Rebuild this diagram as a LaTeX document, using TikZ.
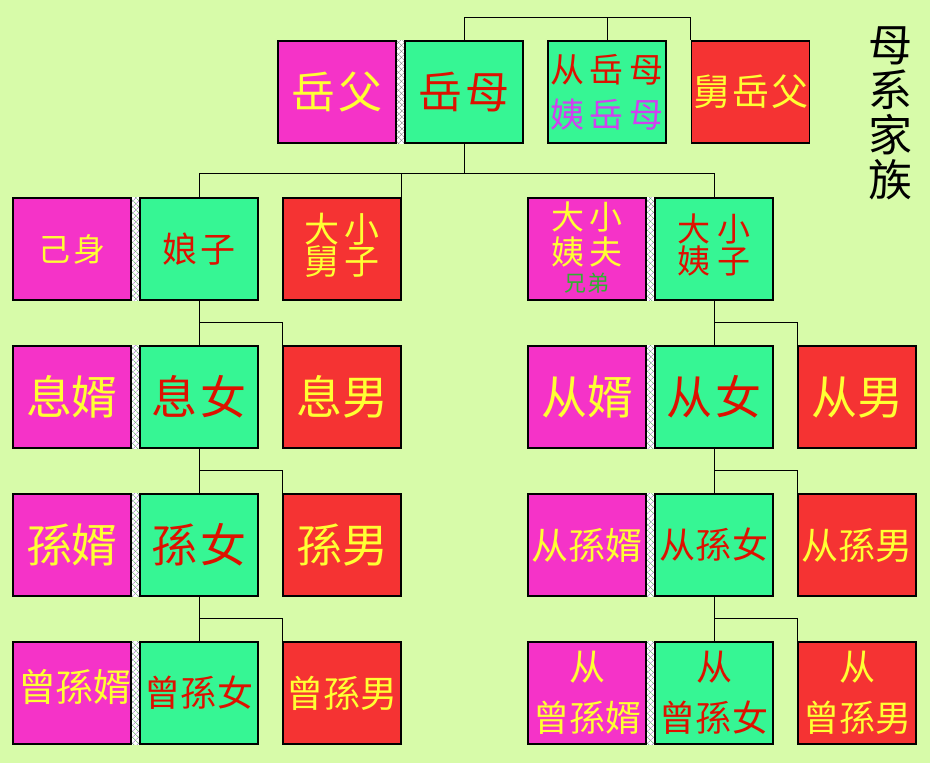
\documentclass[tikz,border=0pt]{standalone}
\usepackage{fontspec}
\newfontfamily\cjk{Noto Sans CJK SC}
\usetikzlibrary{patterns.meta}
\definecolor{bgc}{HTML}{D7FBA9}
\definecolor{cmag}{HTML}{F533C8}
\definecolor{cgrn}{HTML}{36F694}
\definecolor{cred}{HTML}{F53333}
\definecolor{tyel}{HTML}{FFFF33}
\definecolor{tred}{HTML}{DD1100}
\definecolor{tmag}{HTML}{D040F0}
\definecolor{tgrn}{HTML}{30B030}
\definecolor{hatchA}{HTML}{A060C8}
\definecolor{hatchB}{HTML}{50B050}
\newcommand\gapx[1][3pt]{\hspace{#1}}
\pgfdeclarelayer{back}
\pgfsetlayers{back,main}
\tikzset{
  fs/.style={font=\cjk\fontsize{#1}{#1}\selectfont},
  box/.style={draw=black, line width=1.2pt, rectangle, minimum width=118pt, minimum height=102pt, inner sep=0pt},
  magbox/.style={box, fill=cmag, text=tyel},
  grnbox/.style={box, fill=cgrn, text=tred},
  redbox/.style={box, fill=cred, text=tyel},
  conn/.style={draw=black, line width=1pt},
  hatchbg/.style={fill=white},
  hatchone/.style={pattern={Lines[angle=45,distance=4pt,line width=0.5pt]}, pattern color=#1},
  hatchtwo/.style={pattern={Lines[angle=-45,distance=4pt,line width=0.5pt]}, pattern color=#1},
}
\begin{document}
\begin{tikzpicture}[x=1pt,y=-1pt]
\begin{pgfonlayer}{back}
\fill[bgc] (0,0) rectangle (930,763);
\end{pgfonlayer}
\useasboundingbox (0,0) rectangle (930,763);

\coordinate (t0) at (0,17);
\coordinate (t1) at (0,173);
\coordinate (r1) at (0,322);
\coordinate (r2) at (0,470);
\coordinate (r3) at (0,618);

% top row
\node[magbox, fs=44] (yf) at (337,92) {岳\gapx{}父};
\node[grnbox, fs=44] (ym) at (464,92) {岳\gapx{}母};
\node[grnbox] (cym) at (607,92) {};
\node[fs=34, align=center] (cymt) at (cym.center) {\textcolor{tred}{从\gapx[6pt]岳\gapx[6pt]母}\\[11pt]\textcolor{tmag}{姨\gapx[6pt]岳\gapx[6pt]母}};
\node[redbox, fs=37] (jyf) at (750.5,92) {舅\gapx[2pt]岳\gapx[2pt]父};

% row 1
\node[magbox, fs=32] (js) at (72,249) {己\gapx{}身};
\node[grnbox, fs=35] (nz) at (199,249) {娘\gapx{}子};
\node[redbox] (dxj) at (342,249) {};
\node[fs=35, align=center, text=tyel] (dxjt) at ([yshift=4pt]dxj.center) {大\gapx[6pt]小\\[-3pt]舅\gapx[6pt]子};
\node[magbox] (dxyf) at (587,249) {};
\node[fs=33, align=center, text=tyel] (dxyft) at ([yshift=1pt]dxyf.center) {大\gapx[5pt]小\\[2pt]姨\gapx[5pt]夫\\[-6pt]{\fontsize{22}{22}\selectfont\textcolor{tgrn}{兄\gapx[1pt]弟}}};
\node[grnbox] (dxyz) at (714,249) {};
\node[fs=33, align=center, text=tred] (dxyzt) at ([yshift=4pt]dxyz.center) {大\gapx[7pt]小\\[-1pt]姨\gapx[7pt]子};

% row 2
\node[magbox, fs=46] (xx) at (72,397) {息婿};
\node[grnbox, fs=46] (xn) at (199,397) {息\gapx{}女};
\node[redbox, fs=46] (xm) at (342,397) {息男};
\node[magbox, fs=46] (cx) at (587,397) {从婿};
\node[grnbox, fs=46] (cn) at (714,397) {从\gapx[4pt]女};
\node[redbox, fs=46] (cm) at (857,397) {从男};

% row 3
\node[magbox, fs=46] (sx) at (72,545) {孫婿};
\node[grnbox, fs=46] (sn) at (199,545) {孫\gapx{}女};
\node[redbox, fs=46] (sm) at (342,545) {孫男};
\node[magbox, fs=37] (csx) at (587,545) {从孫婿};
\node[grnbox, fs=36] (csn) at (714,545) {从\gapx[1pt]孫\gapx[1pt]女};
\node[redbox, fs=37] (csm) at (857,545) {从孫男};

% row 4
\node[magbox] (zsx) at (72,693) {};
\node[fs=38, text=tyel] (zsxt) at ([xshift=3pt,yshift=6pt]zsx.center) {曾孫婿};
\node[grnbox, fs=36] (zsn) at (199,693) {曾\gapx[1pt]孫\gapx[1pt]女};
\node[redbox, fs=37] (zsm) at (342,693) {曾孫男};
\node[magbox] (czx) at (587,693) {};
\node[fs=36, align=center, text=tyel] (czxt) at (czx.center) {从\\[15pt]曾孫婿};
\node[grnbox] (czn) at (714,693) {};
\node[fs=36, align=center, text=tred] (czny) at (czn.center) {从\\[15pt]曾\gapx[1pt]孫\gapx[1pt]女};
\node[redbox] (czm) at (857,693) {};
\node[fs=36, align=center, text=tyel] (czmt) at (czm.center) {从\\[15pt]曾孫男};

% title
\node[fs=44, align=center, text=black] (title) at (890,113) {母\\[1pt]系\\[1pt]家\\[1pt]族};

% hatch strips
\begin{pgfonlayer}{back}
\path[hatchbg] (yf.north east) rectangle (ym.south west);
\path[hatchone=gray] (yf.north east) rectangle (ym.south west);
\path[hatchtwo=gray] (yf.north east) rectangle (ym.south west);
\foreach \a/\b in {js/nz, xx/xn, sx/sn, zsx/zsn, dxyf/dxyz, cx/cn, csx/csn, czx/czn}{
  \path[hatchbg] (\a.north east) rectangle (\b.south west);
  \path[hatchone=hatchA] (\a.north east) rectangle (\b.south west);
  \path[hatchtwo=hatchB] (\a.north east) rectangle (\b.south west);
}
\end{pgfonlayer}

% connectors
\draw[conn] (ym.north) -- (ym.north |- t0) -| (jyf.north west);
\draw[conn] (cym.north) -- (cym.north |- t0);
\draw[conn] (ym.south) -- (ym.south |- t1);
\draw[conn] (nz.north) |- (dxyz.north |- t1) -- (dxyz.north);
\draw[conn] (dxj.north east) -- (dxj.north east |- t1);

\draw[conn] (nz.south) -- (xn.north);
\draw[conn] (nz.south |- r1) -| (xm.north west);
\draw[conn] (xn.south) -- (sn.north);
\draw[conn] (xn.south |- r2) -| (sm.north west);
\draw[conn] (sn.south) -- (zsn.north);
\draw[conn] (sn.south |- r3) -| (zsm.north west);

\draw[conn] (dxyz.south) -- (cn.north);
\draw[conn] (dxyz.south |- r1) -| (cm.north west);
\draw[conn] (cn.south) -- (csn.north);
\draw[conn] (cn.south |- r2) -| (csm.north west);
\draw[conn] (csn.south) -- (czn.north);
\draw[conn] (csn.south |- r3) -| (czm.north west);
\end{tikzpicture}
\end{document}
